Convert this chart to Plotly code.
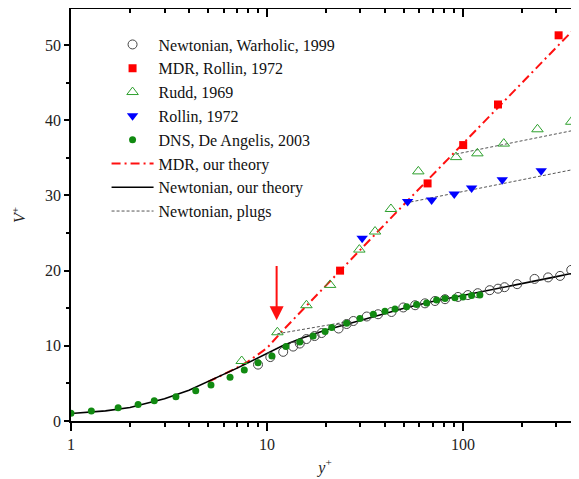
import math
import plotly.graph_objects as go

# ---------------- data ----------------
warholic_x = [9.0, 10.4, 12.1, 13.6, 14.7, 15.9, 17.5, 19.0, 23.2, 25.5, 27.6, 32.3, 36.9, 43.2,
              49.6, 57, 64, 72, 81, 94.4, 106, 119, 137, 151, 163, 189, 232, 272, 313, 357]
warholic_y = [7.5, 8.5, 9.2, 9.9, 10.3, 10.9, 11.3, 11.7, 12.3, 12.9, 13.3, 13.9, 14.2, 14.5,
              15.1, 15.4, 15.65, 15.96, 16.2, 16.5, 16.75, 17.0, 17.4, 17.6, 17.8, 18.2, 18.9, 19.1, 19.3, 20.1]

mdr_rollin_x = [23.6, 66.0, 100.3, 151, 307.7]
mdr_rollin_y = [20.0, 31.6, 36.7, 42.1, 51.3]

rudd_x = [7.43, 11.3, 15.9, 21.0, 29.6, 35.6, 42.9, 59.2, 92.2, 118.5, 161.6, 240, 357]
rudd_y = [7.98, 11.8, 15.4, 18.1, 22.8, 25.2, 28.2, 33.2, 35.1, 35.6, 36.9, 38.8, 39.8]

rollin_x = [30.6, 52.2, 69.2, 90.3, 110.7, 158.7, 250.8]
rollin_y = [24.3, 29.2, 29.4, 30.2, 31.0, 32.1, 33.3]

dns_x = [1.0, 1.27, 1.74, 2.2, 2.66, 3.43, 4.33, 5.18, 6.48, 7.66, 9.0, 10.6, 12.5, 14.7, 17.2,
         19.8, 21.4, 25.5, 29.8, 34.9, 40, 45, 51.6, 58, 65.3, 73.4, 81, 91, 100, 110.7, 122]
dns_y = [1.02, 1.33, 1.77, 2.21, 2.70, 3.23, 4.03, 4.79, 5.81, 6.78, 7.75, 8.64, 9.9, 10.5, 11.3,
         11.9, 12.45, 13.0, 13.65, 14.2, 14.6, 14.9, 15.2, 15.5, 15.7, 16.1, 16.3, 16.4, 16.5, 16.7, 16.75]

mdr_theory_x = [5, 6, 7, 8, 9, 10, 12, 15, 20, 30, 50, 100, 200, 391]
mdr_theory_y = [5.2, 6.2, 7.05, 7.9, 8.8, 9.7, 12.0, 14.6, 18.0, 22.8, 28.8, 36.9, 45.0, 52.8]

newt_theory_x = [1, 1.5, 2, 3, 4, 5, 6, 7, 8, 10, 12, 15, 20, 25, 30, 40, 50, 70, 100, 150, 220, 300, 391]
newt_theory_y = [1.0, 1.35, 1.8, 2.95, 4.1, 5.2, 6.2, 7.0, 7.75, 8.95, 10.0, 11.0, 12.1, 12.8, 13.4,
                 14.3, 15.0, 15.9, 16.7, 17.6, 18.5, 19.2, 19.85]

# three dashed plug segments, separated by None
plugs_x = [11.3, 27, None, 92, 391, None, 51, 391]
plugs_y = [11.6, 13.3, None, 35.5, 38.8, None, 29.0, 33.6]

arrow_x = 11.2
arrow_tip_y = 13.4
arrow_tail_y = 20.8

x_major = [1, 10, 100]
x_major_text = ["1", "10", "100"]
x_minor = [2, 3, 4, 5, 6, 7, 8, 9, 20, 30, 40, 50, 60, 70, 80, 90, 200, 300]

x_max = 391
y_max = 54.8

FONT = "Liberation Serif"

fig = go.Figure()

fig.add_trace(go.Scatter(x=mdr_theory_x, y=mdr_theory_y, mode="lines", name="MDR, our theory",
                         line=dict(color="#ff1010", width=2, dash="9px,4px,2px,4px"), legendrank=6))
fig.add_trace(go.Scatter(x=newt_theory_x, y=newt_theory_y, mode="lines", name="Newtonian, our theory",
                         line=dict(color="black", width=1.6), legendrank=7))
fig.add_trace(go.Scatter(x=plugs_x, y=plugs_y, mode="lines", name="Newtonian, plugs",
                         line=dict(color="#555555", width=1, dash="3px,2px"), legendrank=8))

fig.add_trace(go.Scatter(x=warholic_x, y=warholic_y, mode="markers", name="Newtonian, Warholic, 1999",
                         marker=dict(symbol="circle-open", size=9, color="#444444", line=dict(width=1)),
                         legendrank=1))
fig.add_trace(go.Scatter(x=mdr_rollin_x, y=mdr_rollin_y, mode="markers", name="MDR, Rollin, 1972",
                         marker=dict(symbol="square", size=8, color="#ff0000"), legendrank=2))
fig.add_trace(go.Scatter(x=rudd_x, y=rudd_y, mode="markers", name="Rudd, 1969",
                         marker=dict(symbol="triangle-up-open", size=10, color="#2ea02e", line=dict(width=1)),
                         legendrank=3))
fig.add_trace(go.Scatter(x=rollin_x, y=rollin_y, mode="markers", name="Rollin, 1972",
                         marker=dict(symbol="triangle-down", size=10, color="#0000ff"), legendrank=4))
fig.add_trace(go.Scatter(x=dns_x, y=dns_y, mode="markers", name="DNS, De Angelis, 2003",
                         marker=dict(symbol="circle", size=7, color="#118a11"), legendrank=5))

# invisible trace for the mirrored top/right axes
fig.add_trace(go.Scatter(x=[1], y=[0], xaxis="x2", yaxis="y2", mode="markers",
                         marker=dict(opacity=0), showlegend=False, hoverinfo="skip"))

fig.add_annotation(x=math.log10(arrow_x), y=arrow_tip_y, ax=math.log10(arrow_x), ay=arrow_tail_y,
                   xref="x", yref="y", axref="x", ayref="y", text="", showarrow=True,
                   arrowhead=2, arrowsize=1.4, arrowwidth=2, arrowcolor="#ff1010", standoff=0)

xr = [0, math.log10(x_max)]
# the page body adds an 8px margin, so the figure is 8px smaller on each side
fig.update_layout(
    width=571, height=471,
    margin=dict(l=63, r=0, t=1, b=58, autoexpand=False),
    paper_bgcolor="white", plot_bgcolor="white",
    font=dict(family=FONT, size=16, color="black"),
    showlegend=True,
    legend=dict(x=0.070, y=0.955, xanchor="left", yanchor="top", bgcolor="rgba(0,0,0,0)",
                font=dict(family=FONT, size=16, color="#111111"), itemwidth=42,
                traceorder="normal", tracegroupgap=0),
    xaxis=dict(type="log", range=xr, tickvals=x_major, ticktext=x_major_text, automargin=False,
               ticks="outside", ticklen=8, tickwidth=1.5, tickcolor="black",
               minor=dict(tickvals=x_minor, ticks="outside", ticklen=4, tickwidth=1.5, tickcolor="black"),
               showline=True, linecolor="black", linewidth=1.5, showgrid=False, zeroline=False,
               tickfont=dict(family=FONT, size=16, color="#222222"),
               title=dict(text="<i>y</i><sup>+</sup>", standoff=10,
                          font=dict(family=FONT, size=16, color="#222222"))),
    yaxis=dict(range=[0, y_max], dtick=10, tick0=0, ticks="outside", ticklen=5, tickwidth=1.5,
               tickcolor="black", automargin=False,
               minor=dict(dtick=5, ticks="outside", ticklen=3, tickwidth=1.5, tickcolor="black"),
               showline=True, linecolor="black", linewidth=1.5, showgrid=False, zeroline=False,
               tickfont=dict(family=FONT, size=16, color="#222222"),
               title=dict(text="<i>V</i><sup>+</sup>", standoff=15,
                          font=dict(family=FONT, size=16, color="#222222"))),
    xaxis2=dict(type="log", range=xr, overlaying="x", side="top", anchor="y", automargin=False,
                tickvals=x_major, ticks="inside", ticklen=8, tickwidth=1.5, tickcolor="black",
                minor=dict(tickvals=x_minor, ticks="inside", ticklen=4, tickwidth=1.5, tickcolor="black"),
                showticklabels=False, showline=True, linecolor="black", linewidth=1.5,
                showgrid=False, zeroline=False),
    yaxis2=dict(range=[0, y_max], overlaying="y", side="right", anchor="x", dtick=10, tick0=0,
                automargin=False,
                ticks="inside", ticklen=5, tickwidth=1.5, tickcolor="black",
                minor=dict(dtick=5, ticks="inside", ticklen=3, tickwidth=1.5, tickcolor="black"),
                showticklabels=False, showline=False, showgrid=False, zeroline=False),
)

fig.write_html("out.html")
